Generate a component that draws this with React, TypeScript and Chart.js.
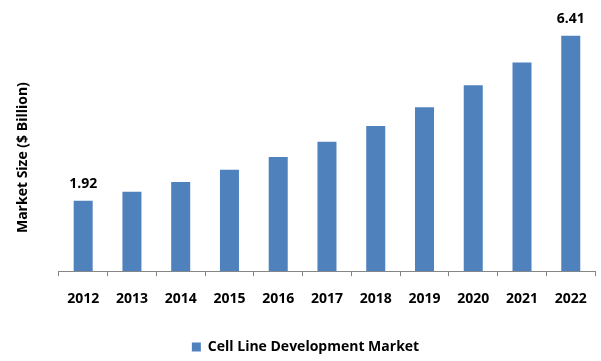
import React, { useEffect, useRef } from "react";
import { Chart, registerables } from "chart.js";

Chart.register(...registerables);

const years = ["2012", "2013", "2014", "2015", "2016", "2017", "2018", "2019", "2020", "2021", "2022"];
const marketSize = [1.92, 2.16, 2.43, 2.76, 3.11, 3.52, 3.95, 4.46, 5.06, 5.68, 6.41];
const labeledIndices = [0, 10];
const seriesName = "Cell Line Development Market";
const yTitle = "Market Size ($ Billion)";

const FONT = "'Open Sans', sans-serif";

const endLabels = {
  id: "endLabels",
  afterDatasetsDraw(chart: any) {
    const ctx = chart.ctx;
    const meta = chart.getDatasetMeta(0);
    ctx.save();
    ctx.font = `bold 14px ${FONT}`;
    ctx.fillStyle = "#000000";
    ctx.textAlign = "center";
    ctx.textBaseline = "middle";
    labeledIndices.forEach((i) => {
      const el = meta.data[i];
      if (!el) return;
      ctx.fillText(marketSize[i].toFixed(2), el.x, el.y - 17);
    });
    // y-axis title, placed a little below the centre of the plot as in the reference
    const area = chart.chartArea;
    ctx.translate(area.left - 36, (area.top + area.bottom) / 2 + 15);
    ctx.rotate(-Math.PI / 2);
    ctx.fillText(yTitle, 0, 0);
    ctx.restore();
  },
};

export default function App() {
  const ref = useRef<HTMLCanvasElement | null>(null);
  useEffect(() => {
    if (!ref.current) return;
    const chart = new Chart(ref.current, {
      type: "bar",
      data: {
        labels: years,
        datasets: [
          {
            label: seriesName,
            data: marketSize,
            backgroundColor: "#4F81BD",
            borderWidth: 0,
            categoryPercentage: 0.39,
            barPercentage: 1,
          },
        ],
      },
      options: {
        animation: false,
        responsive: false,
        maintainAspectRatio: false,
        layout: { padding: { top: 14, right: 5, left: 15, bottom: -3 } },
        plugins: {
          legend: {
            position: "bottom",
            labels: {
              boxWidth: 9,
              boxHeight: 9,
              padding: 19,
              color: "#000000",
              font: { family: FONT, size: 14, weight: "bold" },
            },
          },
          tooltip: { enabled: false },
        },
        scales: {
          x: {
            grid: {
              display: true,
              drawOnChartArea: false,
              drawTicks: true,
              tickLength: 5,
              color: "#868686",
              offset: true,
            },
            border: { display: true, color: "#868686" },
            ticks: {
              color: "#000000",
              padding: 14,
              maxRotation: 0,
              font: { family: FONT, size: 14, weight: "bold" },
            },
          },
          y: {
            min: 0,
            max: 7,
            grid: { display: false },
            border: { display: false },
            ticks: { display: false },
            title: {
              display: true,
              text: yTitle,
              color: "rgba(0,0,0,0)",
              padding: { top: 0, bottom: 19 },
              font: { family: FONT, size: 14, weight: "bold" },
            },
          },
        },
      },
      plugins: [endLabels],
    });
    return () => chart.destroy();
  }, []);
  return (
    <div style={{ position: "fixed", left: 0, top: 0, width: 601, height: 361, background: "#fff", overflow: "hidden" }}>
      <canvas ref={ref} width={601} height={361} style={{ display: "block" }} />
    </div>
  );
}
